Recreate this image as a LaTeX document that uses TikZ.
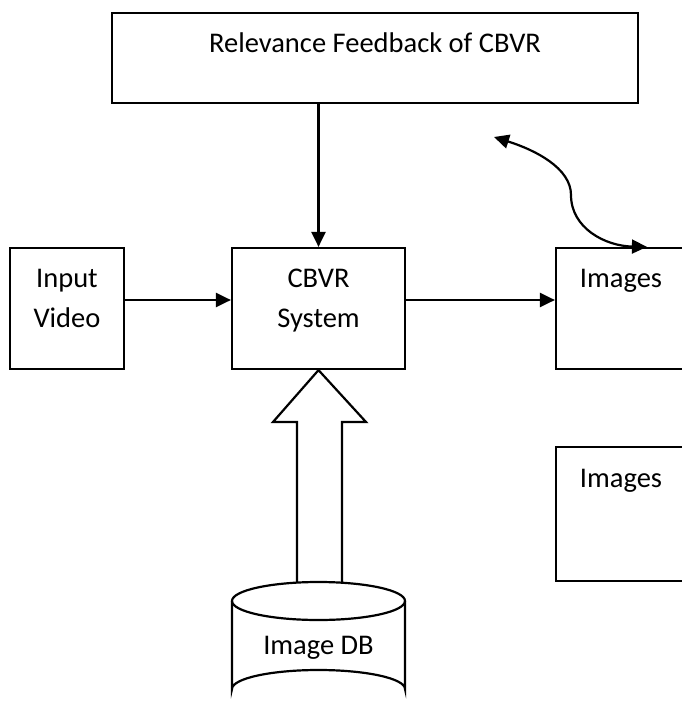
\documentclass[tikz,border=0pt]{standalone}
\usepackage{fontspec}
\setmainfont{Carlito}
\usetikzlibrary{arrows.meta}
\tikzset{
box/.style={draw,line width=2.2pt,rectangle,inner sep=0pt},
txt/.style={font=\fontsize{28.5}{40}\selectfont,align=center,inner sep=0pt},
flow/.style={line width=2.2pt,-{Triangle[length=15pt,width=14pt]}},
tips/.style={line width=2.2pt,{Triangle[length=15pt,width=14pt]}-{Triangle[length=15pt,width=14pt]}}
}
\begin{document}
\begin{tikzpicture}[x=1pt,y=-1pt]
\useasboundingbox (0,0) rectangle (682,709);
\clip (0,0) rectangle (682,709);
% boxes
\node[box,minimum width=526,minimum height=90] (fb) at (375,58) {};
\node[box,minimum width=114,minimum height=121] (vid) at (67,308.5) {};
\node[box,minimum width=173,minimum height=121] (cbvr) at (318.5,308.5) {};
\node[box,minimum width=164,minimum height=121] (img1) at (638,308.5) {};
\node[box,minimum width=164,minimum height=134] (img2) at (638,514) {};
% texts
\node[txt] (fbtxt) at (375,42.5) {Relevance Feedback of CBVR};
\node[txt] (vidtxt) at (67,298.5) {Input\\Video};
\node[txt] (cbvrtxt) at (318.5,301) {CBVR\\System};
\node[txt] (img1txt) at (621,280.5) {Images};
\node[txt] (img2txt) at (621,480.5) {Images};
\node[txt] (dbtxt) at (318.5,647.6) {Image DB};
% connectors
\draw[flow] (cbvr.north |- fb.south) -- (cbvr.north);
\draw[flow] ([yshift=8.5]vid.east) -- ([yshift=8.5]cbvr.west);
\draw[flow] ([yshift=8.5]cbvr.east) -- ([yshift=8.5]img1.west);
\coordinate (loop) at (494,137);
\draw[tips] (loop) .. controls (535,150) and (571,168) .. (571,195)
 .. controls (571,228) and (605,246) .. ([xshift=92]img1.north west);
% block arrow
\draw[line width=2.2pt,line join=miter] (297,582.6) -- (297,422) -- (273,422) -- (cbvr.south)
 -- (366,422) -- (342,422) -- (342,582.6);
% database
\draw[line width=2.2pt] (318.5,601) ellipse [x radius=86.5,y radius=19];
\draw[line width=2.2pt] (232,601) -- (232,689)
 arc[start angle=180,end angle=360,x radius=86.5,y radius=19] -- (405,601);
\end{tikzpicture}
\end{document}
